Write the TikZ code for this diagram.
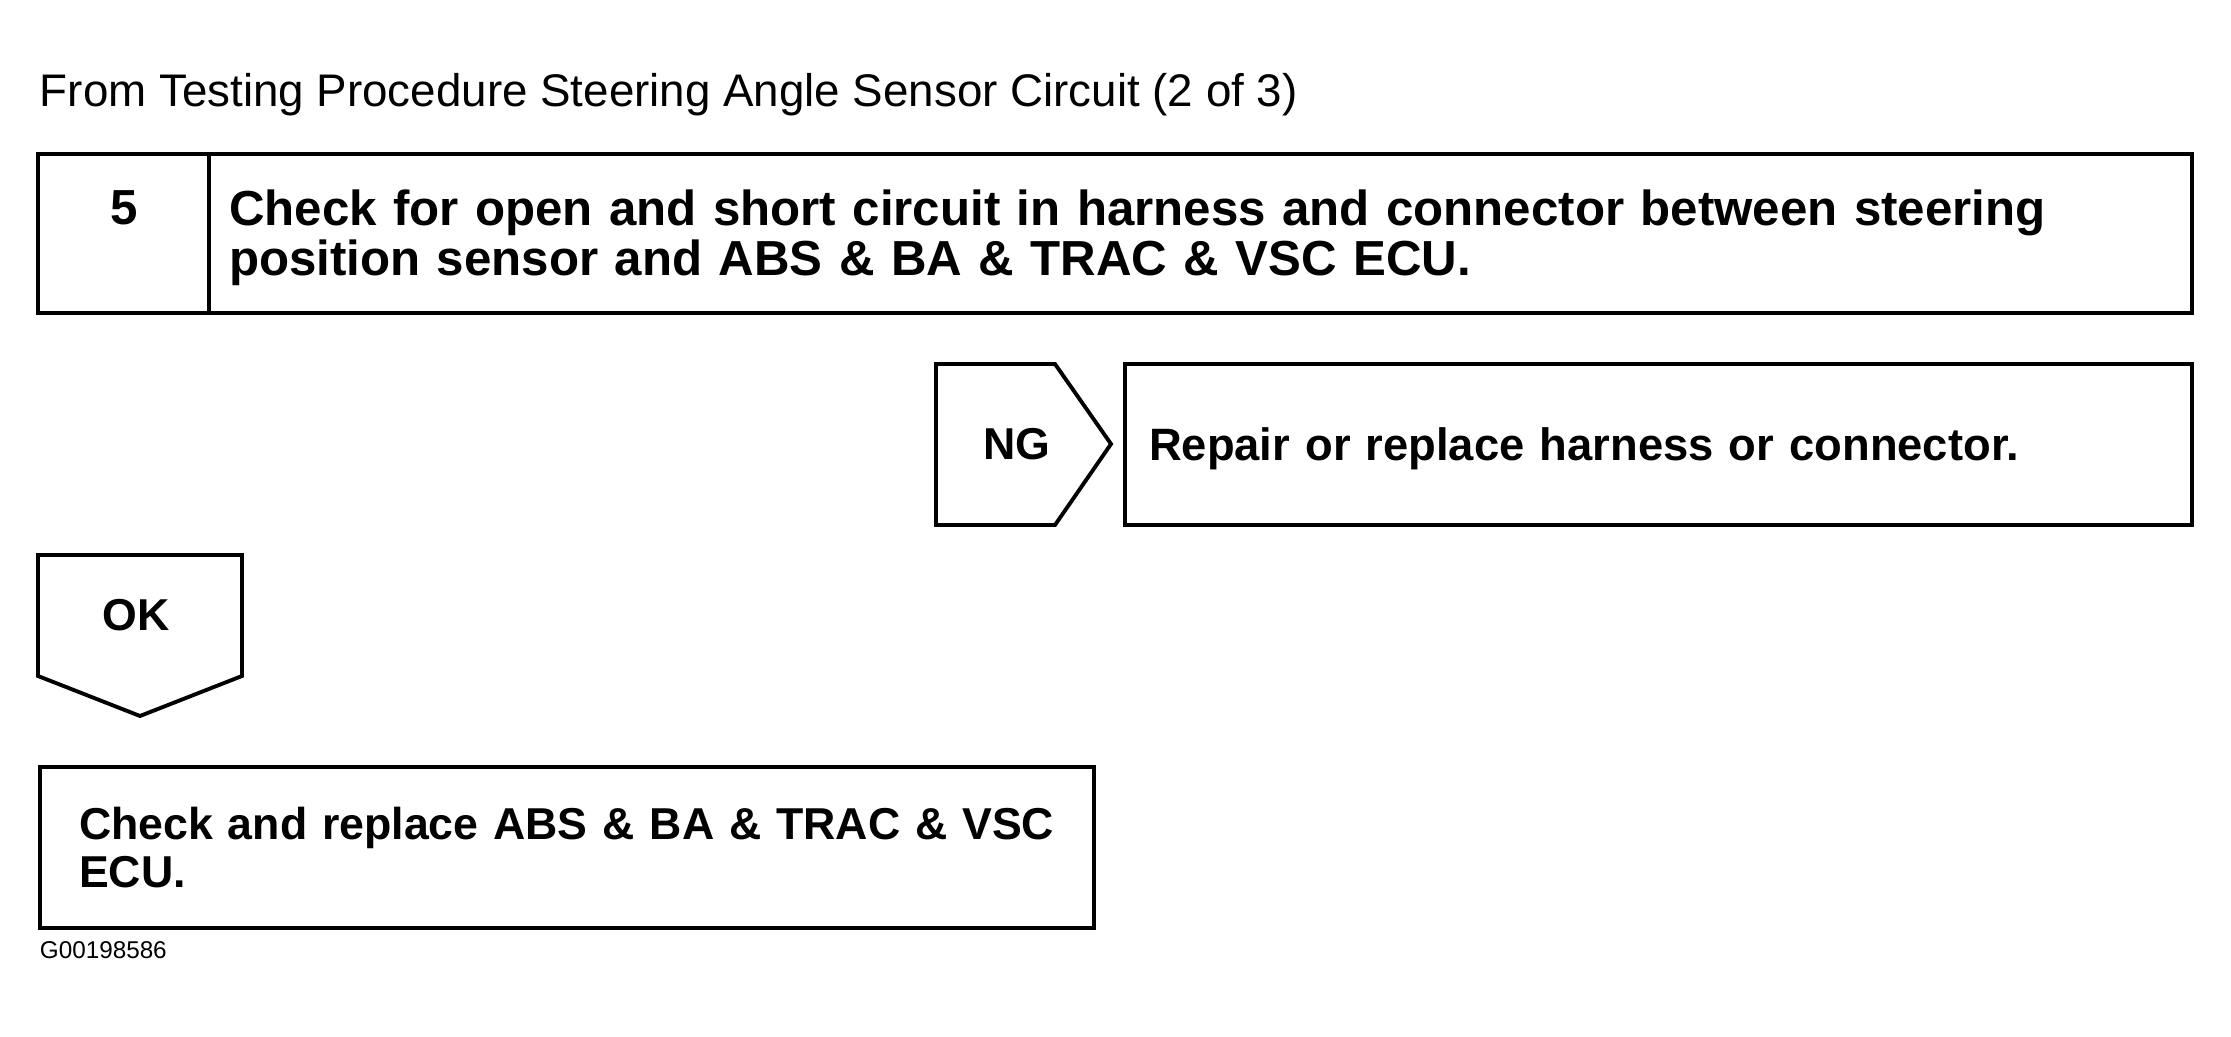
\documentclass[tikz,border=0pt]{standalone}
\usepackage{fontspec}
\setmainfont{Liberation Sans}
\usetikzlibrary{positioning}

\begin{document}
\begin{tikzpicture}[x=0.01cm, y=-0.01cm, line width=1.1pt, cell/.style={rectangle, draw, outer sep=0pt, inner ysep=0pt, anchor=north west}, txtcell/.style={cell, align=left, font=\bfseries\fontsize{12.7}{13.4}\selectfont}, tag/.style={font=\bfseries\fontsize{12.7}{14}\selectfont}]
\useasboundingbox (0,0) rectangle (2231,1037);
\node[anchor=base west, inner sep=0pt, font=\fontsize{13}{15}\selectfont] (title) at (38,107) {From Testing Procedure Steering Angle Sensor Circuit (2 of 3)};
% step 5
\node[cell, minimum width=1.71cm, minimum height=1.59cm] (num) at (38,154) {};
\node[font=\bfseries\fontsize{14}{15}\selectfont] (numtxt) at (124,208) {5};
\node[txtcell, font=\bfseries\fontsize{14}{14.1}\selectfont, minimum height=1.59cm, text width=19.42cm, inner xsep=0.2cm] (check) at (num.north east) {\rule{0pt}{12.5pt}Check for open and short circuit in harness and connector between steering\\position sensor and ABS \& BA \& TRAC \& VSC ECU.};
% NG branch
\draw (936,364) -- (1055,364) -- (1111,444) -- (1055,525) -- (936,525) -- cycle;
\node[tag] (ng) at (1017,444) {NG};
\node[txtcell, font=\bfseries\fontsize{12.9}{13.4}\selectfont, minimum height=1.61cm, text width=10.18cm, inner xsep=0.24cm] (repair) at (1125,364) {\rule{0pt}{12pt}Repair or replace harness or connector.};
% OK branch
\draw (38,555) -- (242,555) -- (242,676) -- (140,716) -- (38,676) -- cycle;
\node[tag] (ok) at (136,615) {OK};
\node[txtcell, minimum height=1.61cm, text width=9.75cm, inner xsep=0.39cm] (ecu) at (40,767) {Check and replace ABS \& BA \& TRAC \& VSC\\ECU.};
\node[anchor=base west, inner sep=0pt, font=\fontsize{6.9}{8}\selectfont] (code) at (38,958) {G00198586};
\end{tikzpicture}
\end{document}
